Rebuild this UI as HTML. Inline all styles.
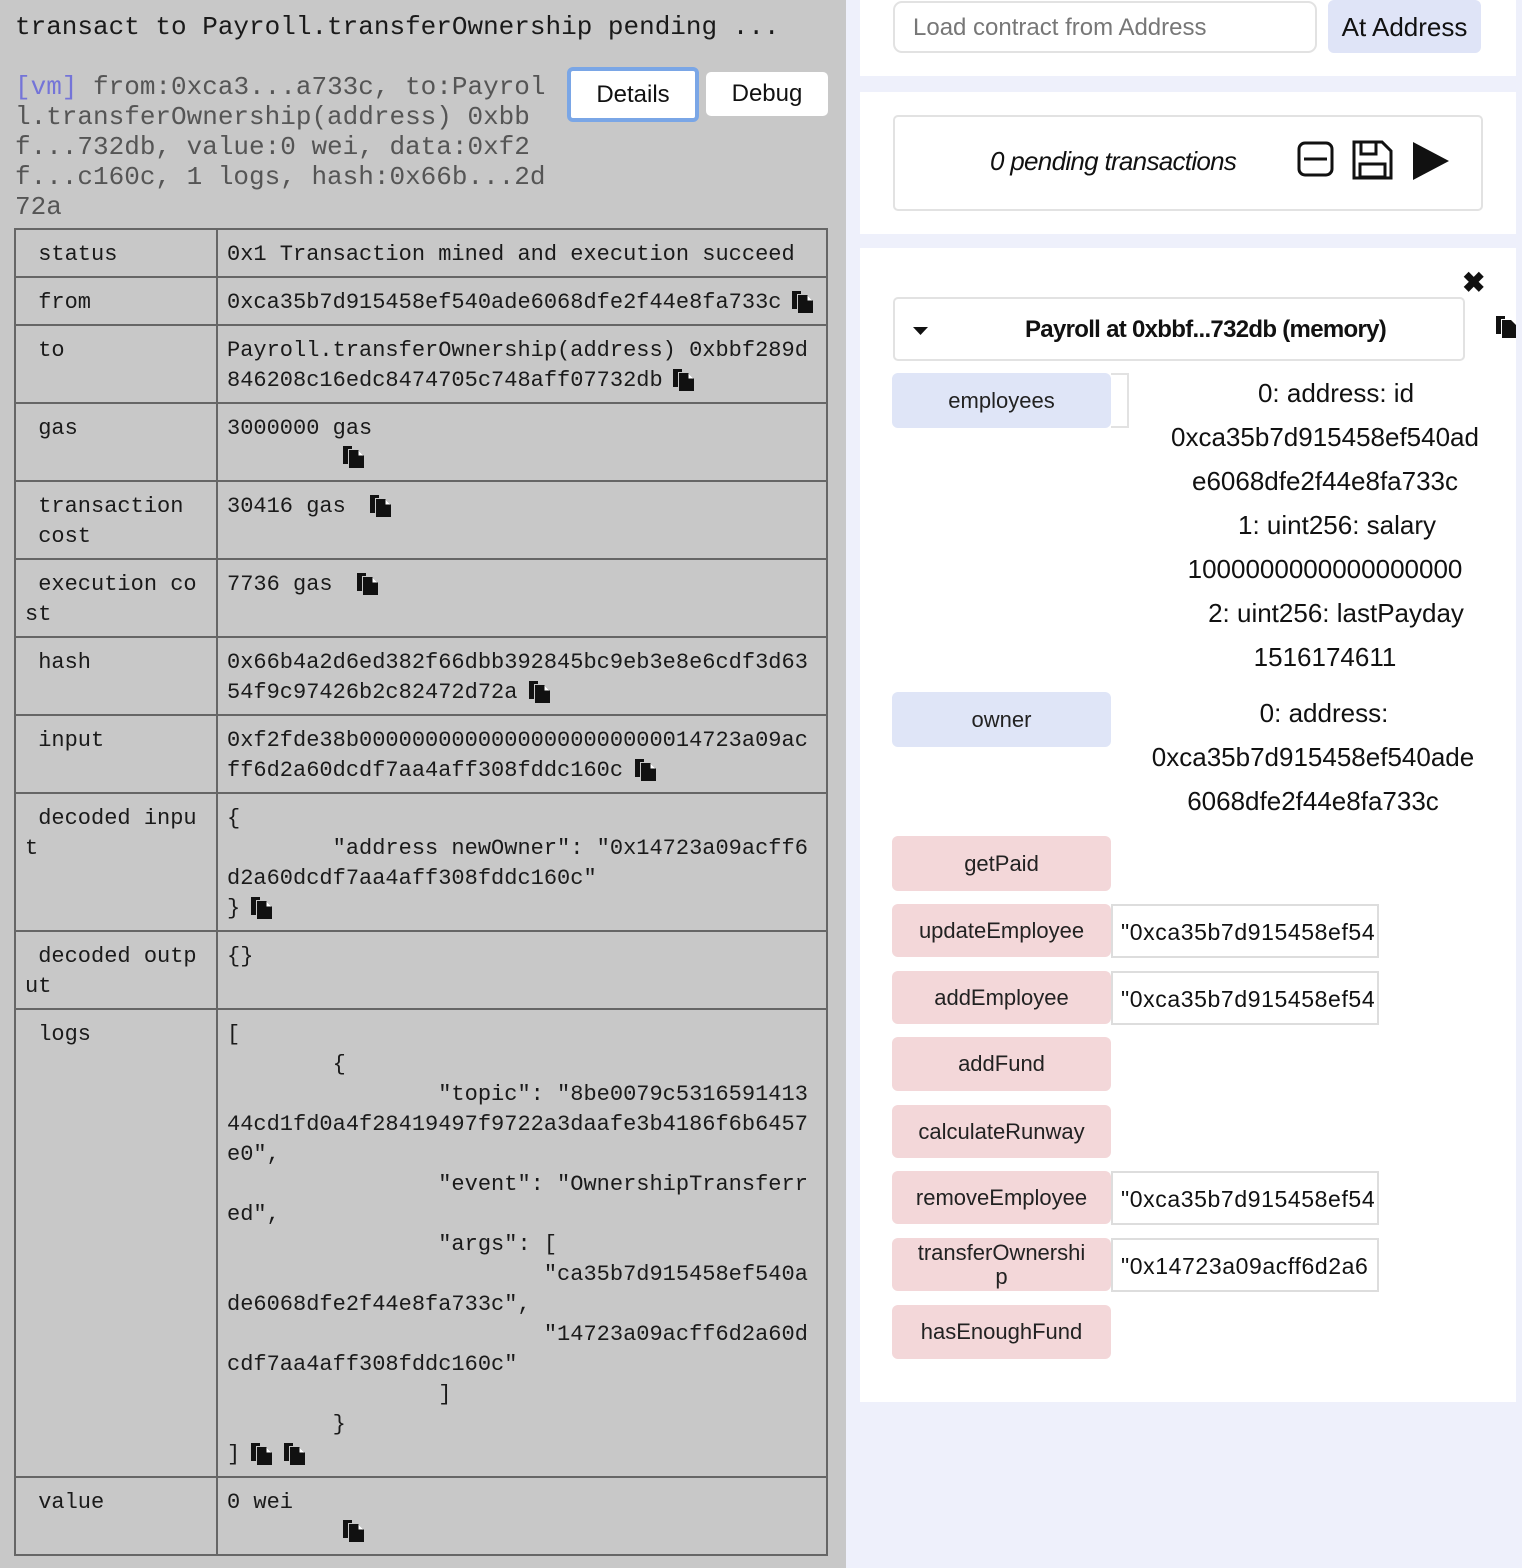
<!DOCTYPE html>
<html><head><meta charset="utf-8"><style>
*{margin:0;padding:0;box-sizing:border-box}
body{width:1522px;height:1568px;position:relative;overflow:hidden;background:#eef0fb;font-family:"Liberation Sans",sans-serif}
#left{position:absolute;left:0;top:0;width:846px;height:1568px;background:#c8c8c8}
.m{position:absolute;font-family:"Liberation Mono",monospace;white-space:pre;line-height:30px;color:#1a1a1a}
.h{font-size:26px}
.g{color:#555}
.s{font-size:22px}
.hl{position:absolute;left:15px;width:812px;height:2px;background:#666}
.vl{position:absolute;width:2px;background:#666}
.card{position:absolute;background:#fff}
.btn{position:absolute;left:892px;width:219px;border-radius:6px;display:flex;align-items:center;justify-content:center;font-size:22px;color:#222;text-align:center;line-height:24px}
.b{background:#dfe5f7}
.p{background:#f3d7d9}
.inp{position:absolute;left:1111px;width:268px;height:54px;background:#fff;border:2px solid #ddd;font-size:23px;letter-spacing:0.6px;line-height:52px;padding-left:8px;overflow:hidden;white-space:nowrap;color:#111}
.o{position:absolute;font-size:26px;color:#111;white-space:nowrap;transform:translateX(-50%);line-height:44px}
</style></head><body>
<div id="left">
<div class="m h" style="left:15px;top:12px">transact to Payroll.transferOwnership pending ...</div>
<div class="m h g" style="left:15px;top:72px"><span style="color:#7474d8">[vm]</span> from:0xca3...a733c, to:Payrol
l.transferOwnership(address) 0xbb
f...732db, value:0 wei, data:0xf2
f...c160c, 1 logs, hash:0x66b...2d
72a</div>
<div style="position:absolute;left:567px;top:67px;width:132px;height:55px;border:4px solid #7aa6e6;border-radius:6px;background:#fff;font-size:24px;line-height:47px;text-align:center;color:#111">Details</div>
<div style="position:absolute;left:706px;top:72px;width:122px;height:44px;border-radius:5px;background:#fff;font-size:24px;line-height:44px;text-align:center;color:#111">Debug</div>

<div class="hl" style="top:228px"></div>
<div class="hl" style="top:276px"></div>
<div class="hl" style="top:324px"></div>
<div class="hl" style="top:402px"></div>
<div class="hl" style="top:480px"></div>
<div class="hl" style="top:558px"></div>
<div class="hl" style="top:636px"></div>
<div class="hl" style="top:714px"></div>
<div class="hl" style="top:792px"></div>
<div class="hl" style="top:930px"></div>
<div class="hl" style="top:1008px"></div>
<div class="hl" style="top:1476px"></div>
<div class="hl" style="top:1554px"></div>
<div class="vl" style="left:14px;top:228px;height:1328px"></div>
<div class="vl" style="left:216px;top:228px;height:1328px"></div>
<div class="vl" style="left:826px;top:228px;height:1328px"></div>

<div class="m s" style="left:25px;top:240px"> status</div>
<div class="m s" style="left:227px;top:240px">0x1 Transaction mined and execution succeed</div>
<div class="m s" style="left:25px;top:288px"> from</div>
<div class="m s" style="left:227px;top:288px">0xca35b7d915458ef540ade6068dfe2f44e8fa733c</div>
<div class="m s" style="left:25px;top:336px"> to</div>
<div class="m s" style="left:227px;top:336px">Payroll.transferOwnership(address) 0xbbf289d
846208c16edc8474705c748aff07732db</div>
<div class="m s" style="left:25px;top:414px"> gas</div>
<div class="m s" style="left:227px;top:414px">3000000 gas</div>
<div class="m s" style="left:25px;top:492px"> transaction
 cost</div>
<div class="m s" style="left:227px;top:492px">30416 gas</div>
<div class="m s" style="left:25px;top:570px"> execution co
st</div>
<div class="m s" style="left:227px;top:570px">7736 gas</div>
<div class="m s" style="left:25px;top:648px"> hash</div>
<div class="m s" style="left:227px;top:648px">0x66b4a2d6ed382f66dbb392845bc9eb3e8e6cdf3d63
54f9c97426b2c82472d72a</div>
<div class="m s" style="left:25px;top:726px"> input</div>
<div class="m s" style="left:227px;top:726px">0xf2fde38b00000000000000000000000014723a09ac
ff6d2a60dcdf7aa4aff308fddc160c</div>
<div class="m s" style="left:25px;top:804px"> decoded inpu
t</div>
<div class="m s" style="left:227px;top:804px">{
        "address newOwner": "0x14723a09acff6
d2a60dcdf7aa4aff308fddc160c"
}</div>
<div class="m s" style="left:25px;top:942px"> decoded outp
ut</div>
<div class="m s" style="left:227px;top:942px">{}</div>
<div class="m s" style="left:25px;top:1020px"> logs</div>
<div class="m s" style="left:227px;top:1020px">[
        {
                "topic": "8be0079c5316591413
44cd1fd0a4f28419497f9722a3daafe3b4186f6b6457
e0",
                "event": "OwnershipTransferr
ed",
                "args": [
                        "ca35b7d915458ef540a
de6068dfe2f44e8fa733c",
                        "14723a09acff6d2a60d
cdf7aa4aff308fddc160c"
                ]
        }
]</div>
<div class="m s" style="left:25px;top:1488px"> value</div>
<div class="m s" style="left:227px;top:1488px">0 wei</div>

<svg width="846" height="1568" style="position:absolute;left:0;top:0">
<defs><g id="c"><path d="M0 2h9v3h-4v15h-5z" fill="#111"/><path d="M6 6h9l6 6v12h-15z" fill="#111"/><path d="M15 6v6h6" fill="#fff" stroke="#111" stroke-width="1"/></g></defs>
<use href="#c" x="792" y="289"/>
<use href="#c" x="673" y="367"/>
<use href="#c" x="343" y="444"/>
<use href="#c" x="370" y="493"/>
<use href="#c" x="357" y="571"/>
<use href="#c" x="529" y="679"/>
<use href="#c" x="635" y="757"/>
<use href="#c" x="251" y="895"/>
<use href="#c" x="251" y="1441"/>
<use href="#c" x="284" y="1441"/>
<use href="#c" x="343" y="1518"/>
</svg>
</div>

<div class="card" style="left:860px;top:0;width:656px;height:76px"></div>
<div style="position:absolute;left:893px;top:1px;width:424px;height:52px;border:2px solid #e2e2e2;border-radius:9px;background:#fff;font-size:24px;line-height:50px;padding-left:18px;color:#777">Load contract from Address</div>
<div style="position:absolute;left:1328px;top:0;width:153px;height:53px;border-radius:6px;background:#dfe4f7;font-size:26px;line-height:55px;text-align:center;color:#111">At Address</div>

<div class="card" style="left:860px;top:92px;width:656px;height:142px"></div>
<div style="position:absolute;left:893px;top:115px;width:590px;height:96px;border:2px solid #e2e2e2;border-radius:5px;background:#fff"></div>
<div style="position:absolute;left:990px;top:141px;font-size:26px;font-style:italic;line-height:40px;color:#111;letter-spacing:-0.7px">0 pending transactions</div>
<svg width="200" height="50" style="position:absolute;left:1290px;top:135px">
<rect x="9" y="8" width="33" height="32" rx="6" fill="none" stroke="#111" stroke-width="3"/><line x1="14" y1="24" x2="37" y2="24" stroke="#111" stroke-width="3"/>
<path d="M64 7h28l9 9v27h-37z" fill="none" stroke="#111" stroke-width="3"/><rect x="71" y="7" width="15" height="12" fill="none" stroke="#111" stroke-width="3"/><rect x="70" y="29" width="25" height="13" fill="none" stroke="#111" stroke-width="3"/>
<path d="M123 7l36 19l-36 19z" fill="#111"/>
</svg>

<div class="card" style="left:860px;top:248px;width:656px;height:1154px"></div>
<div style="position:absolute;left:1462px;top:266px;font-size:28px;font-weight:bold;color:#111">✖</div>
<div style="position:absolute;left:893px;top:297px;width:572px;height:64px;border:2px solid #e2e2e2;border-radius:5px;background:#fff"></div>
<svg width="20" height="12" style="position:absolute;left:911px;top:325px"><path d="M2 2h15l-7.5 8z" fill="#111"/></svg>
<div style="position:absolute;left:1025px;top:313px;font-size:24px;font-weight:bold;line-height:34px;color:#111;letter-spacing:-0.7px">Payroll at 0xbbf...732db (memory)</div>
<svg width="20" height="28" style="position:absolute;left:1496px;top:314px"><path d="M0 2h9v3h-4v15h-5z" fill="#111"/><path d="M6 6h9l6 6v12h-15z" fill="#111"/></svg>

<div class="btn b" style="top:373px;height:55px">employees</div>
<div style="position:absolute;left:1111px;top:373px;width:18px;height:55px;border:2px solid #e2e2e2;border-left:none;background:#fff"></div>
<div class="o" style="left:1336px;top:371px">0: address: id</div>
<div class="o" style="left:1325px;top:415px">0xca35b7d915458ef540ad</div>
<div class="o" style="left:1325px;top:459px">e6068dfe2f44e8fa733c</div>
<div class="o" style="left:1337px;top:503px">1: uint256: salary</div>
<div class="o" style="left:1325px;top:547px">1000000000000000000</div>
<div class="o" style="left:1336px;top:591px">2: uint256: lastPayday</div>
<div class="o" style="left:1325px;top:635px">1516174611</div>

<div class="btn b" style="top:692px;height:55px">owner</div>
<div class="o" style="left:1324px;top:691px">0: address:</div>
<div class="o" style="left:1313px;top:735px">0xca35b7d915458ef540ade</div>
<div class="o" style="left:1313px;top:779px">6068dfe2f44e8fa733c</div>

<div class="btn p" style="top:836px;height:55px">getPaid</div>
<div class="btn p" style="top:904px;height:53px">updateEmployee</div>
<div class="inp" style="top:904px">"0xca35b7d915458ef54</div>
<div class="btn p" style="top:971px;height:53px">addEmployee</div>
<div class="inp" style="top:971px">"0xca35b7d915458ef54</div>
<div class="btn p" style="top:1037px;height:54px">addFund</div>
<div class="btn p" style="top:1105px;height:53px">calculateRunway</div>
<div class="btn p" style="top:1171px;height:53px">removeEmployee</div>
<div class="inp" style="top:1171px">"0xca35b7d915458ef54</div>
<div class="btn p" style="top:1238px;height:53px;align-items:flex-start;padding-top:3px">transferOwnershi<br>p</div>
<div class="inp" style="top:1238px">"0x14723a09acff6d2a6</div>
<div class="btn p" style="top:1305px;height:54px">hasEnoughFund</div>
</body></html>
